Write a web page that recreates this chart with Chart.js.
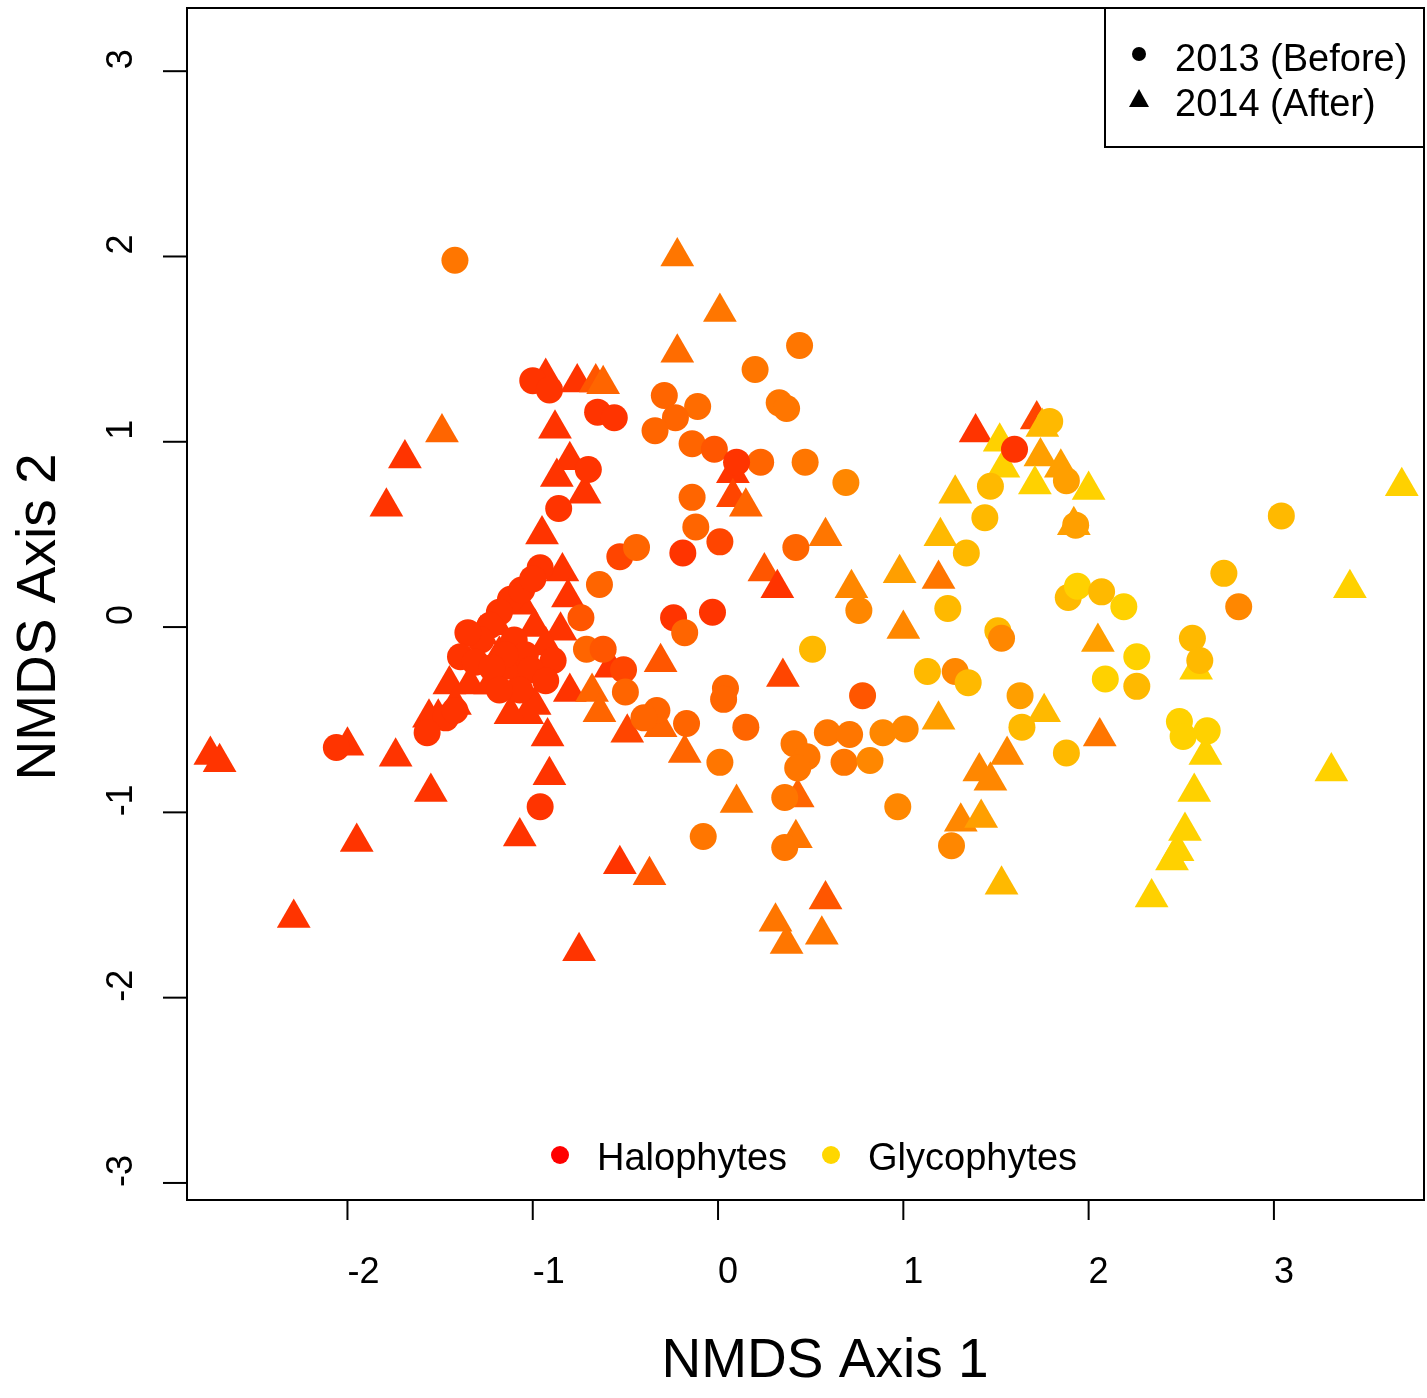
<!DOCTYPE html>
<html>
<head>
<meta charset="utf-8">
<script src="https://cdn.jsdelivr.net/npm/chart.js@4.4.1/dist/chart.umd.min.js"></script>
<style>
  html, body { margin: 0; padding: 0; background: #fff; }
  canvas { display: block; }
</style>
</head>
<body>
<canvas id="nmds" width="1427" height="1398"></canvas>
<script>
// axis ticks
const xTicks = [-2, -1, 0, 1, 2, 3];
const yTicks = [-3, -2, -1, 0, 1, 2, 3];

// 2013 (Before) sites: NMDS scores + glycophyte share (drives the colour)
const before2013X = [
  -1.42, 0.44, 0.20, 0.33, 0.37, -1.00, -0.91, -0.65, -0.56, -0.29,
  -0.11, -0.23, -0.34, -0.14, -0.02, 0.23, 0.47, 0.69, -0.70, -0.86,
  -0.14, -0.12, 0.10, 0.01, -0.19, 0.42, 1.79, 1.60, 1.88, 1.47,
  1.44, 1.93, 1.34, 3.04, 0.76, 1.24, 0.51, 1.51, 1.53, 1.89,
  1.94, 2.07, 2.19, 2.73, 2.81, 2.26, 2.09, 2.26, 2.56, 2.60,
  2.49, 2.51, 2.64, 1.88, 1.13, 1.28, 1.35, 0.78, 1.63, 1.64,
  0.59, 0.71, 0.89, 1.01, 0.68, 0.82, 0.41, 0.48, 0.43, 0.36,
  0.36, 0.97, 1.26, -0.08, -0.96, -2.06, -0.53, -0.44, -0.64, -0.24,
  -0.18, -0.03, 0.04, 0.03, -0.33, -0.40, -0.17, 0.15, 0.01, -0.96,
  -0.74, -0.71, -0.62, -0.51, -0.50, -0.89,
  -1.12, -1.18, -1.23, -1.06, -1.00, -1.10, -1.04, -1.15, -1.28, -1.35,
  -1.39, -1.31, -1.22, -1.01, -0.93, -1.07, -1.18, -1.47, -1.57, -1.42
];
const before2013Y = [
  1.98, 1.52, 1.39, 1.21, 1.18, 1.33, 1.28, 1.16, 1.13, 1.25,
  1.19, 1.13, 1.06, 0.99, 0.96, 0.89, 0.89, 0.78, 0.85, 0.64,
  0.70, 0.54, 0.89, 0.46, 0.40, 0.43, 1.11, 0.96, 0.79, 0.76,
  0.59, 0.55, 0.40, 0.60, 0.09, 0.10, -0.12, -0.02, -0.06, 0.16,
  0.22, 0.19, 0.11, 0.29, 0.11, -0.16, -0.28, -0.32, -0.06, -0.18,
  -0.51, -0.59, -0.56, -0.68, -0.24, -0.24, -0.30, -0.37, -0.37, -0.54,
  -0.57, -0.58, -0.57, -0.55, -0.73, -0.72, -0.63, -0.70, -0.76, -0.92,
  -1.19, -0.97, -1.18, -1.13, -0.97, -0.65, 0.38, 0.43, 0.23, 0.05,
  -0.03, 0.08, -0.33, -0.39, -0.45, -0.49, -0.52, -0.54, -0.73, 0.32,
  0.05, -0.12, -0.12, -0.23, -0.35, -0.18,
  0.15, 0.08, 0.01, 0.20, 0.26, -0.07, -0.15, -0.15, -0.07, -0.03,
  -0.16, -0.19, -0.22, -0.23, -0.29, -0.34, -0.34, -0.49, -0.57, -0.45
];
const before2013Glyco = [
  0.55, 0.55, 0.55, 0.55, 0.55, 0.24, 0.24, 0.24, 0.24, 0.47,
  0.50, 0.47, 0.47, 0.47, 0.40, 0.47, 0.55, 0.63, 0.24, 0.24,
  0.47, 0.47, 0.24, 0.32, 0.24, 0.47, 0.86, 0.24, 0.74, 0.86,
  0.86, 0.74, 0.86, 0.86, 0.63, 0.86, 0.86, 0.86, 0.63, 0.86,
  0.97, 0.86, 0.97, 0.86, 0.63, 0.97, 0.97, 0.86, 0.86, 0.86,
  0.97, 0.97, 0.97, 0.86, 0.86, 0.63, 0.86, 0.40, 0.74, 0.86,
  0.55, 0.55, 0.63, 0.63, 0.55, 0.63, 0.55, 0.55, 0.55, 0.55,
  0.55, 0.63, 0.63, 0.55, 0.24, 0.24, 0.32, 0.47, 0.47, 0.24,
  0.47, 0.24, 0.47, 0.47, 0.47, 0.47, 0.47, 0.47, 0.55, 0.24,
  0.40, 0.47, 0.40, 0.32, 0.47, 0.24,
  0.24, 0.24, 0.24, 0.24, 0.24, 0.24, 0.24, 0.24, 0.24, 0.24,
  0.24, 0.24, 0.24, 0.24, 0.24, 0.24, 0.24, 0.24, 0.24, 0.24
];

// 2014 (After) sites
const after2014X = [
  -1.49, -1.69, -1.79, -0.22, 0.01, -0.22, -0.93, -0.76, -0.66, -0.62,
  -0.88, -0.80, -0.87, -0.72, -0.95, 0.08, 0.08, 0.15, 0.58, 1.39,
  1.72, 1.75, 1.52, 1.54, 1.74, 1.85, 1.71, 1.28, 1.92, 2.00,
  1.20, 3.69, 0.72, 0.98, 1.19, 1.00, 3.41, 2.05, 2.58, 2.06,
  2.63, 3.31, 2.57, 2.52, 2.48, 2.45, 2.34, 1.41, 1.47, 1.56,
  1.19, 1.76, 0.43, 0.42, 1.31, 1.42, 1.53, 0.58, 0.31, 0.37,
  0.56, 0.10, -0.37, -0.53, -0.75, -1.07, -1.95, -2.29, -1.55, -1.74,
  -2.00, -2.74, -2.69, 0.25, 0.32, -0.31, 0.35, -0.31, -0.18, -0.91,
  -0.49, -0.92, -1.03, -0.84, -0.81, -0.85, -0.58, -0.80, -0.68, -0.64,
  -1.08,
  -1.20, -1.28, -1.06, -0.99, -0.93, -1.18, -1.10, -1.45, -1.34, -1.23,
  -1.42, -1.51, -1.56, -0.99, -1.12
];
const after2014Y = [
  1.05, 0.91, 0.65, 2.00, 1.70, 1.48, 1.35, 1.32, 1.32, 1.31,
  1.07, 0.90, 0.81, 0.72, 0.50, 0.83, 0.70, 0.65, 0.49, 1.05,
  1.12, 1.08, 1.00, 0.86, 0.92, 0.86, 0.77, 0.72, 0.55, 0.74,
  0.49, 0.76, 0.21, 0.29, 0.26, -0.01, 0.21, -0.08, -0.23, -0.59,
  -0.69, -0.78, -0.89, -1.10, -1.21, -1.26, -1.46, -0.78, -0.83, -0.69,
  -0.50, -0.46, -0.92, -1.14, -1.05, -1.03, -1.39, -1.47, -1.59, -1.71,
  -1.66, -0.95, -1.34, -1.28, -1.75, -1.13, -1.16, -1.57, -0.89, -0.70,
  -0.64, -0.69, -0.73, 0.30, 0.21, -0.19, -0.27, -0.54, -0.68, -0.80,
  -0.57, -0.59, -0.47, 0.30, 0.16, -0.02, -0.22, -0.35, -0.35, -0.46,
  -0.31,
  0.01, -0.04, 0.12, 0.00, -0.10, -0.15, -0.23, -0.31, -0.31, -0.31,
  -0.42, -0.49, -0.49, -0.42, -0.47
];
const after2014Glyco = [
  0.47, 0.24, 0.24, 0.55, 0.55, 0.50, 0.24, 0.24, 0.40, 0.47,
  0.24, 0.24, 0.24, 0.24, 0.24, 0.24, 0.32, 0.47, 0.55, 0.24,
  0.32, 0.86, 0.97, 0.97, 0.74, 0.74, 0.97, 0.86, 0.74, 0.97,
  0.86, 0.97, 0.63, 0.74, 0.55, 0.63, 0.97, 0.74, 0.97, 0.55,
  0.97, 0.97, 0.97, 0.97, 0.97, 0.97, 0.97, 0.63, 0.63, 0.63,
  0.74, 0.86, 0.47, 0.55, 0.63, 0.74, 0.86, 0.40, 0.55, 0.55,
  0.55, 0.55, 0.40, 0.24, 0.24, 0.24, 0.24, 0.24, 0.24, 0.24,
  0.24, 0.24, 0.24, 0.40, 0.24, 0.40, 0.32, 0.47, 0.47, 0.24,
  0.32, 0.24, 0.24, 0.24, 0.24, 0.24, 0.24, 0.24, 0.47, 0.47,
  0.24,
  0.24, 0.24, 0.24, 0.24, 0.24, 0.24, 0.24, 0.24, 0.24, 0.24,
  0.24, 0.24, 0.24, 0.24, 0.24
];

// red -> gold ramp
function glycoColor(t) {
  return 'rgb(255,' + Math.round(215 * t) + ',0)';
}

function toPoints(xs, ys) {
  return xs.map((x, i) => ({ x: x, y: ys[i] }));
}

const FONT = '"Liberation Sans", Arial, Helvetica, sans-serif';

// R style frame, ticks, labels and legends
const rAxes = {
  id: 'rAxes',
  afterDraw(chart) {
    const c = chart.ctx;
    const a = chart.chartArea;
    const xs = chart.scales.x;
    const ys = chart.scales.y;
    c.save();
    c.strokeStyle = '#000';
    c.fillStyle = '#000';
    c.lineWidth = 2;
    c.strokeRect(a.left, a.top, a.right - a.left, a.bottom - a.top);

    // x ticks
    c.font = '36px ' + FONT;
    c.textAlign = 'center';
    c.textBaseline = 'middle';
    xTicks.forEach(v => {
      const px = xs.getPixelForValue(v);
      c.beginPath();
      c.moveTo(px, a.bottom);
      c.lineTo(px, a.bottom + 20);
      c.stroke();
      c.fillText(String(v), px + (v < 0 ? 16 : 10), 1273);
    });

    // y ticks, labels rotated
    yTicks.forEach(v => {
      const py = ys.getPixelForValue(v);
      c.beginPath();
      c.moveTo(a.left, py);
      c.lineTo(a.left - 24, py);
      c.stroke();
      c.save();
      c.translate(122, py - 12);
      c.rotate(-Math.PI / 2);
      c.fillText(String(v), 0, 0);
      c.restore();
    });

    // axis titles
    c.font = '55px ' + FONT;
    c.fillText('NMDS Axis 1', 825, 1362);
    c.save();
    c.translate(40, 617);
    c.rotate(-Math.PI / 2);
    c.fillText('NMDS Axis 2', 0, 0);
    c.restore();

    // year legend, top right
    c.lineWidth = 2;
    c.strokeRect(1105, a.top, a.right - 1105, 139);
    c.beginPath();
    c.arc(1139, 54, 7, 0, Math.PI * 2);
    c.fill();
    c.beginPath();
    c.moveTo(1139, 89);
    c.lineTo(1149, 107);
    c.lineTo(1129, 107);
    c.closePath();
    c.fill();
    c.font = '38px ' + FONT;
    c.textAlign = 'left';
    c.fillText('2013 (Before)', 1175, 61);
    c.fillText('2014 (After)', 1175, 106);

    // group legend, bottom
    c.fillStyle = glycoColor(0);
    c.beginPath();
    c.arc(560, 1155, 9, 0, Math.PI * 2);
    c.fill();
    c.fillStyle = glycoColor(1);
    c.beginPath();
    c.arc(831, 1155, 9, 0, Math.PI * 2);
    c.fill();
    c.fillStyle = '#000';
    c.fillText('Halophytes', 597, 1160);
    c.fillText('Glycophytes', 868, 1160);
    c.restore();
  }
};

new Chart(document.getElementById('nmds'), {
  type: 'scatter',
  data: {
    datasets: [
      {
        label: '2013 (Before)',
        data: toPoints(before2013X, before2013Y),
        pointStyle: 'circle',
        pointRadius: 13.5,
        borderWidth: 0,
        backgroundColor: before2013Glyco.map(glycoColor)
      },
      {
        label: '2014 (After)',
        data: toPoints(after2014X, after2014Y),
        pointStyle: 'triangle',
        pointRadius: 19.5,
        borderWidth: 0,
        backgroundColor: after2014Glyco.map(glycoColor)
      }
    ]
  },
  options: {
    responsive: false,
    animation: false,
    layout: { autoPadding: false, padding: { top: 8, right: 3, left: 0, bottom: 0 } },
    plugins: {
      legend: { display: false },
      tooltip: { enabled: false }
    },
    scales: {
      x: {
        type: 'linear',
        min: -2.866,
        max: 3.81,
        grid: { display: false },
        border: { display: false },
        ticks: { display: false },
        afterFit: s => { s.height = 198; }
      },
      y: {
        type: 'linear',
        min: -3.092,
        max: 3.341,
        grid: { display: false },
        border: { display: false },
        ticks: { display: false },
        afterFit: s => { s.width = 187; }
      }
    }
  },
  plugins: [rAxes]
});
</script>
</body>
</html>
